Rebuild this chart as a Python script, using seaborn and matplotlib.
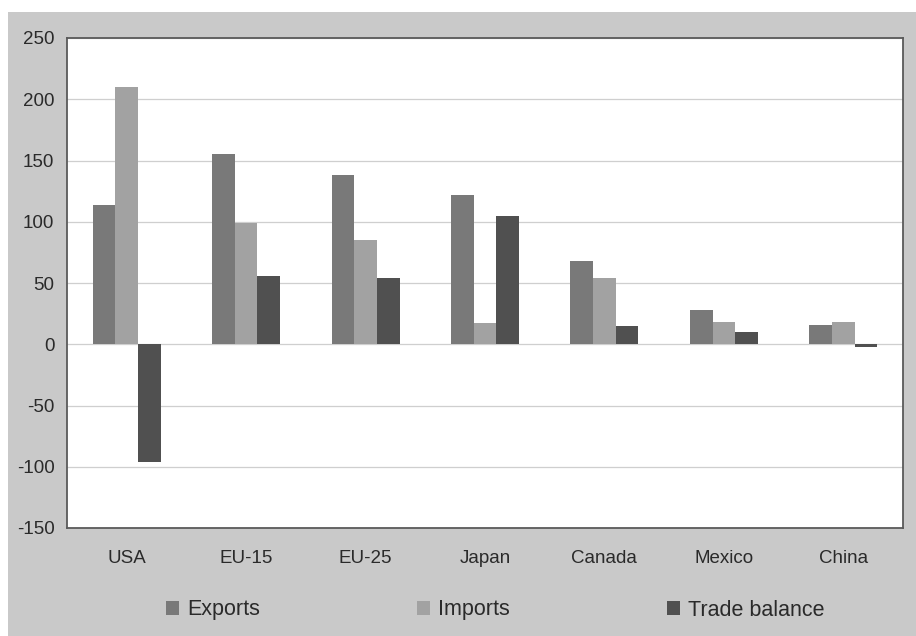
import matplotlib
matplotlib.use("Agg")
import matplotlib.pyplot as plt
import seaborn as sns
import pandas as pd
from matplotlib.patches import Rectangle

categories = ["USA", "EU-15", "EU-25", "Japan", "Canada", "Mexico", "China"]
exports = [114, 155, 138, 122, 68, 28, 16]
imports = [210, 99, 85, 17, 54, 18, 18]
trade_balance = [-96, 56, 54, 105, 15, 10, -2]
series_names = ["Exports", "Imports", "Trade balance"]
y_ticks = [-150, -100, -50, 0, 50, 100, 150, 200, 250]

df = pd.DataFrame({
    "country": categories * 3,
    "series": [series_names[0]] * 7 + [series_names[1]] * 7 + [series_names[2]] * 7,
    "value": exports + imports + trade_balance,
})

sns.set_theme(style="white")
plt.rcParams["font.family"] = ["Liberation Sans", "DejaVu Sans"]

fig = plt.figure(figsize=(9.16, 6.36), dpi=100, facecolor="white")
bg = Rectangle((8 / 916, 0), 1 - 8 / 916, 1 - 12 / 636,
               transform=fig.transFigure, facecolor="#c9c9c9",
               edgecolor="none", zorder=-10)
fig.add_artist(bg)
ax = fig.add_axes([67 / 916, 1 - 528 / 636, (903 - 67) / 916, (528 - 38) / 636])
ax.set_zorder(1)

palette = {"Exports": "#797979", "Imports": "#a2a2a2", "Trade balance": "#505050"}
sns.barplot(data=df, x="country", y="value", hue="series", order=categories,
            hue_order=series_names, palette=palette, width=0.57, gap=0,
            saturation=1, ax=ax, legend=True, edgecolor="none")

ax.set_facecolor("white")
ax.set_ylim(-150, 250)
ax.set_yticks(y_ticks)
ax.set_yticklabels([str(t) for t in y_ticks])
ax.set_xlim(-0.5, 6.5)
ax.set_xlabel("")
ax.set_ylabel("")
ax.yaxis.grid(True, color="#cfcfcf", linewidth=0.9, linestyle="-")
ax.set_axisbelow(True)
for s in ax.spines.values():
    s.set_color("#5a5a5a")
    s.set_linewidth(1.3)
ax.tick_params(axis="both", length=0, labelsize=13.5, colors="#2a2a2a")
ax.tick_params(axis="x", pad=16)
ax.tick_params(axis="y", pad=9)

ax.get_legend().remove()
handles = [Rectangle((0, 0), 1, 1, facecolor=palette[n], edgecolor="none") for n in series_names]
leg = fig.legend(handles, series_names, loc="center", bbox_to_anchor=(495 / 916, 1 - 610 / 636),
                 ncol=3, frameon=False, fontsize=15.5, handlelength=0.62, handleheight=0.62,
                 handletextpad=0.35, columnspacing=7.3, labelcolor="#2a2a2a")
leg.set_zorder(5)

fig.savefig("out.png", dpi=100, facecolor=fig.get_facecolor())
